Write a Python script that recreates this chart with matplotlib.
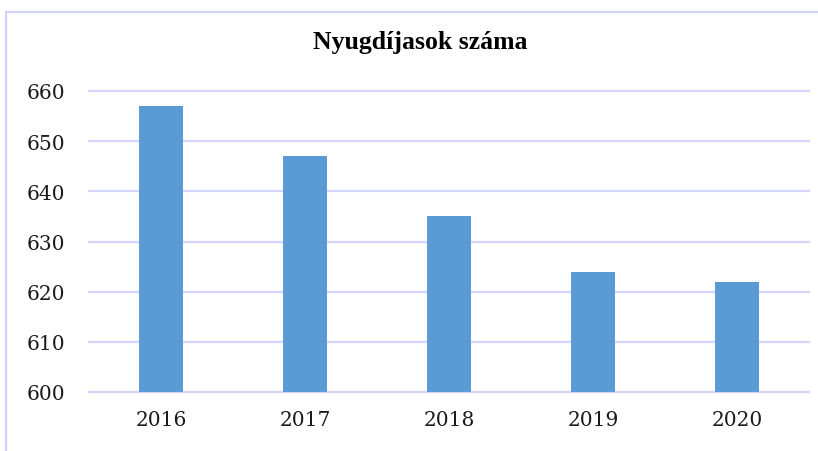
import matplotlib.pyplot as plt
import matplotlib.patches as patches
import numpy as np

# Data
years = ['2016', '2017', '2018', '2019', '2020']
pensioners = [657, 647, 635, 624, 622]
y_ticks = [600, 610, 620, 630, 640, 650, 660]

bar_color = '#5B9BD5'
grid_color = '#D6D6FC'

fig = plt.figure(figsize=(8.18, 4.52), dpi=100)
ax = fig.add_axes([89 / 818, 1 - 393 / 452, 720 / 818, 301 / 452])

x = np.arange(len(years))
ax.bar(x, pensioners, width=0.31, color=bar_color, zorder=3)

ax.set_xlim(-0.5, len(years) - 0.5)
ax.set_ylim(y_ticks[0], y_ticks[-1])
ax.set_yticks(y_ticks)
ax.set_xticks(x)
ax.set_xticklabels(years)

# Lavender horizontal grid, no spines
ax.yaxis.grid(True, color=grid_color, linewidth=1.6, zorder=0)
for line in ax.get_ygridlines():
    line.set_clip_on(False)
for s in ax.spines.values():
    s.set_visible(False)
ax.tick_params(axis='both', length=0, labelsize=14.5, colors='#1a1a1a')
ax.tick_params(axis='y', pad=17)
ax.tick_params(axis='x', pad=13)
for lbl in ax.get_xticklabels() + ax.get_yticklabels():
    lbl.set_family('DejaVu Serif')

fig.text(420 / 818, 1 - 42 / 452, 'Nyugdíjasok száma', ha='center', va='center',
         fontsize=18.5, fontweight='bold', family='Liberation Serif')

# Chart frame border
frame = patches.Rectangle((6 / 818, -0.1), 1.2, 1.1 - 13 / 452, transform=fig.transFigure,
                          fill=False, edgecolor='#D0D0F8', linewidth=1.6)
fig.patches.append(frame)

plt.savefig('out.png', dpi=100)
plt.close('all')
